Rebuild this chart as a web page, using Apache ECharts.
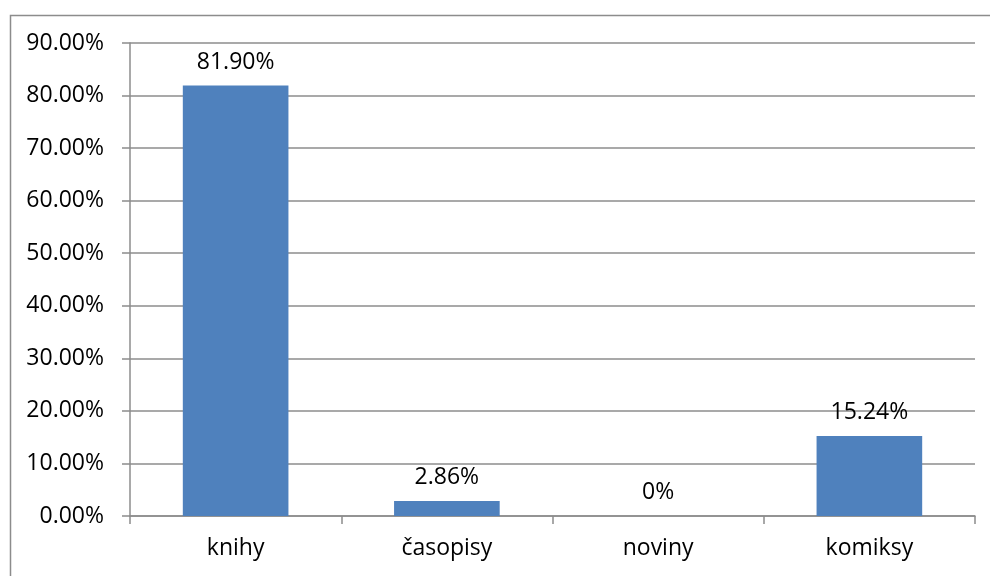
<!DOCTYPE html>
<html>
<head>
<meta charset="utf-8">
<script src="https://cdn.jsdelivr.net/npm/echarts@6/dist/echarts.min.js"></script>
<style>
  html, body { margin: 0; padding: 0; background: #fff; }
  #chart { width: 990px; height: 576px; }
</style>
</head>
<body>
<div id="chart"></div>
<script>
// Reading media share by type
const categories = ['knihy', 'časopisy', 'noviny', 'komiksy'];
const shares = [81.90, 2.86, 0, 15.24];
const yTicks = { min: 0, max: 90, step: 10 };

const FONT = 'Open Sans';
const FONT_SIZE = 23;
const GRAY = '#8c8c8c';

const chart = echarts.init(document.getElementById('chart'));
chart.setOption({
  animation: false,
  backgroundColor: '#fff',
  textStyle: { fontFamily: FONT },
  graphic: [{
    type: 'rect',
    left: 8, top: 13,
    shape: { width: 1000, height: 600 },
    style: { fill: 'none', stroke: GRAY, lineWidth: 1.5 },
    silent: true
  }],
  grid: { left: 130, right: 15, top: 43, bottom: 60, containLabel: false },
  xAxis: {
    type: 'category',
    data: categories,
    axisLine: { lineStyle: { color: GRAY, width: 1.5 } },
    axisTick: { show: true, length: 8, lineStyle: { color: GRAY, width: 1.5 } },
    axisLabel: { color: '#000', fontSize: FONT_SIZE, fontFamily: FONT, margin: 21 }
  },
  yAxis: {
    type: 'value',
    min: yTicks.min, max: yTicks.max, interval: yTicks.step,
    axisLine: { show: true, lineStyle: { color: GRAY, width: 1.5 } },
    axisTick: { show: true, length: 8, lineStyle: { color: GRAY, width: 1.5 } },
    splitLine: { lineStyle: { color: GRAY, width: 1.5 } },
    axisLabel: {
      color: '#000', fontSize: FONT_SIZE, fontFamily: FONT, margin: 26,
      formatter: v => v.toFixed(2) + '%'
    }
  },
  series: [{
    type: 'bar',
    data: shares,
    barCategoryGap: '50%',
    itemStyle: { color: '#4f81bd' },
    label: {
      show: true,
      position: 'top',
      distance: 12,
      color: '#000',
      fontSize: FONT_SIZE,
      fontFamily: FONT,
      formatter: p => p.value === 0 ? '0%' : p.value.toFixed(2) + '%'
    }
  }]
});
</script>
</body>
</html>
